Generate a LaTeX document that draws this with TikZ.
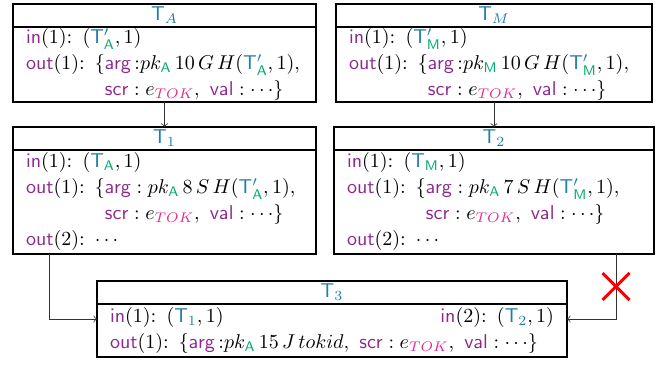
\documentclass[tikz,border=0pt]{standalone}
\usepackage{tikz}
\usetikzlibrary{shapes,shapes.misc,arrows,positioning}
\definecolor{tblue}{RGB}{30,125,170}
\definecolor{kwpurple}{RGB}{140,40,140}
\definecolor{subgreen}{RGB}{0,170,110}
\definecolor{tokpink}{RGB}{230,40,140}
\newcommand{\kw}[1]{\textcolor{kwpurple}{\mathsf{#1}}}
\newcommand{\sA}{\textcolor{subgreen}{\mathsf{A}}}
\newcommand{\sM}{\textcolor{subgreen}{\mathsf{M}}}
\newcommand{\Tx}[1]{{\color{tblue}\mathsf{T}_{#1}}}
\newcommand{\Tp}[1]{{\color{tblue}\mathsf{T}^{\prime}_{#1}}}
\newcommand{\tok}{e_{\textcolor{tokpink}{TOK}}}
\newcommand{\indentscr}{\phantom{$\kw{out}(1)$: $\{$}}

\begin{document}
\begin{tikzpicture}[x=0.5pt,y=-0.5pt,font=\fontsize{10.2}{13}\selectfont,
    head/.style={rectangle,draw,line width=1pt,outer sep=0pt,minimum height=11.5pt,inner sep=0pt,text=tblue},
    body/.style={rectangle,draw,line width=1pt,outer sep=0pt,align=left,inner xsep=6.5pt,inner ysep=0pt},
    conn/.style={->,black!80}]
  \useasboundingbox (0,0) rectangle (662,367);
  % tokens spent by the first layer
  \node [head,minimum width=151.5pt,anchor=north west] (tA) at (13,4) {$\Tx{A}$};
  \node [body,text width=138.5pt,minimum height=37.5pt,below=0pt of tA] (tAbody)
    {$\kw{in}(1)$: $(\Tp{\sA},1)$\\
     $\kw{out}(1)$: $\{\kw{arg}\,{:}pk_{\sA}\,10\,G\,H(\Tp{\sA},1),$\\
     \indentscr$\kw{scr}: \tok,\ \kw{val}:\cdots\}$};
  \node [head,minimum width=158pt,anchor=north west] (tM) at (336,4) {$\Tx{M}$};
  \node [body,text width=145pt,minimum height=37.5pt,below=0pt of tM] (tMbody)
    {$\kw{in}(1)$: $(\Tp{\sM},1)$\\
     $\kw{out}(1)$: $\{\kw{arg}\,{:}pk_{\sM}\,10\,G\,H(\Tp{\sM},1),$\\
     \indentscr$\kw{scr}: \tok,\ \kw{val}:\cdots\}$};
  % second layer
  \node [head,minimum width=151.5pt,anchor=north west] (t1) at (13,127) {$\Tx{1}$};
  \node [body,text width=138.5pt,minimum height=52pt,below=0pt of t1] (t1body)
    {$\kw{in}(1)$: $(\Tx{\sA},1)$\\
     $\kw{out}(1)$: $\{\kw{arg}:pk_{\sA}\,8\,S\,H(\Tp{\sA},1),$\\
     \indentscr$\kw{scr}: \tok,\ \kw{val}:\cdots\}$\\
     $\kw{out}(2)$: $\cdots$};
  \node [head,minimum width=160pt,anchor=north west] (t2) at (334,127) {$\Tx{2}$};
  \node [body,text width=147pt,minimum height=52pt,below=0pt of t2] (t2body)
    {$\kw{in}(1)$: $(\Tx{\sM},1)$\\
     $\kw{out}(1)$: $\{\kw{arg}:pk_{\sA}\,7\,S\,H(\Tp{\sM},1),$\\
     \indentscr$\kw{scr}: \tok,\ \kw{val}:\cdots\}$\\
     $\kw{out}(2)$: $\cdots$};
  % merging transaction
  \node [head,minimum width=235pt,anchor=north west] (t3) at (97,281) {$\Tx{3}$};
  \node [body,text width=222pt,minimum height=26.5pt,below=0pt of t3] (t3body)
    {$\kw{in}(1)$: $(\Tx{1},1)$\hfill$\kw{in}(2)$: $(\Tx{2},1)$\\
     $\kw{out}(1)$: $\{\kw{arg}\,{:}pk_{\sA}\,15\,J\,tokid,\ \kw{scr}: \tok,\ \kw{val}:\cdots\}$};
  \draw [conn] (tAbody) -- (t1);
  \draw [conn] (tMbody) -- (t2);
  \draw [conn] ([xshift=18pt]t1body.south west) |- ([yshift=5.75pt]t3body.west);
  \draw [conn] ([xshift=-19pt]t2body.south east) |- ([yshift=5.75pt]t3body.east)
    node [pos=0.25,cross out,draw=red,line width=1.5pt,minimum size=12pt,inner sep=0pt] (blocked) {};
\end{tikzpicture}
\end{document}
